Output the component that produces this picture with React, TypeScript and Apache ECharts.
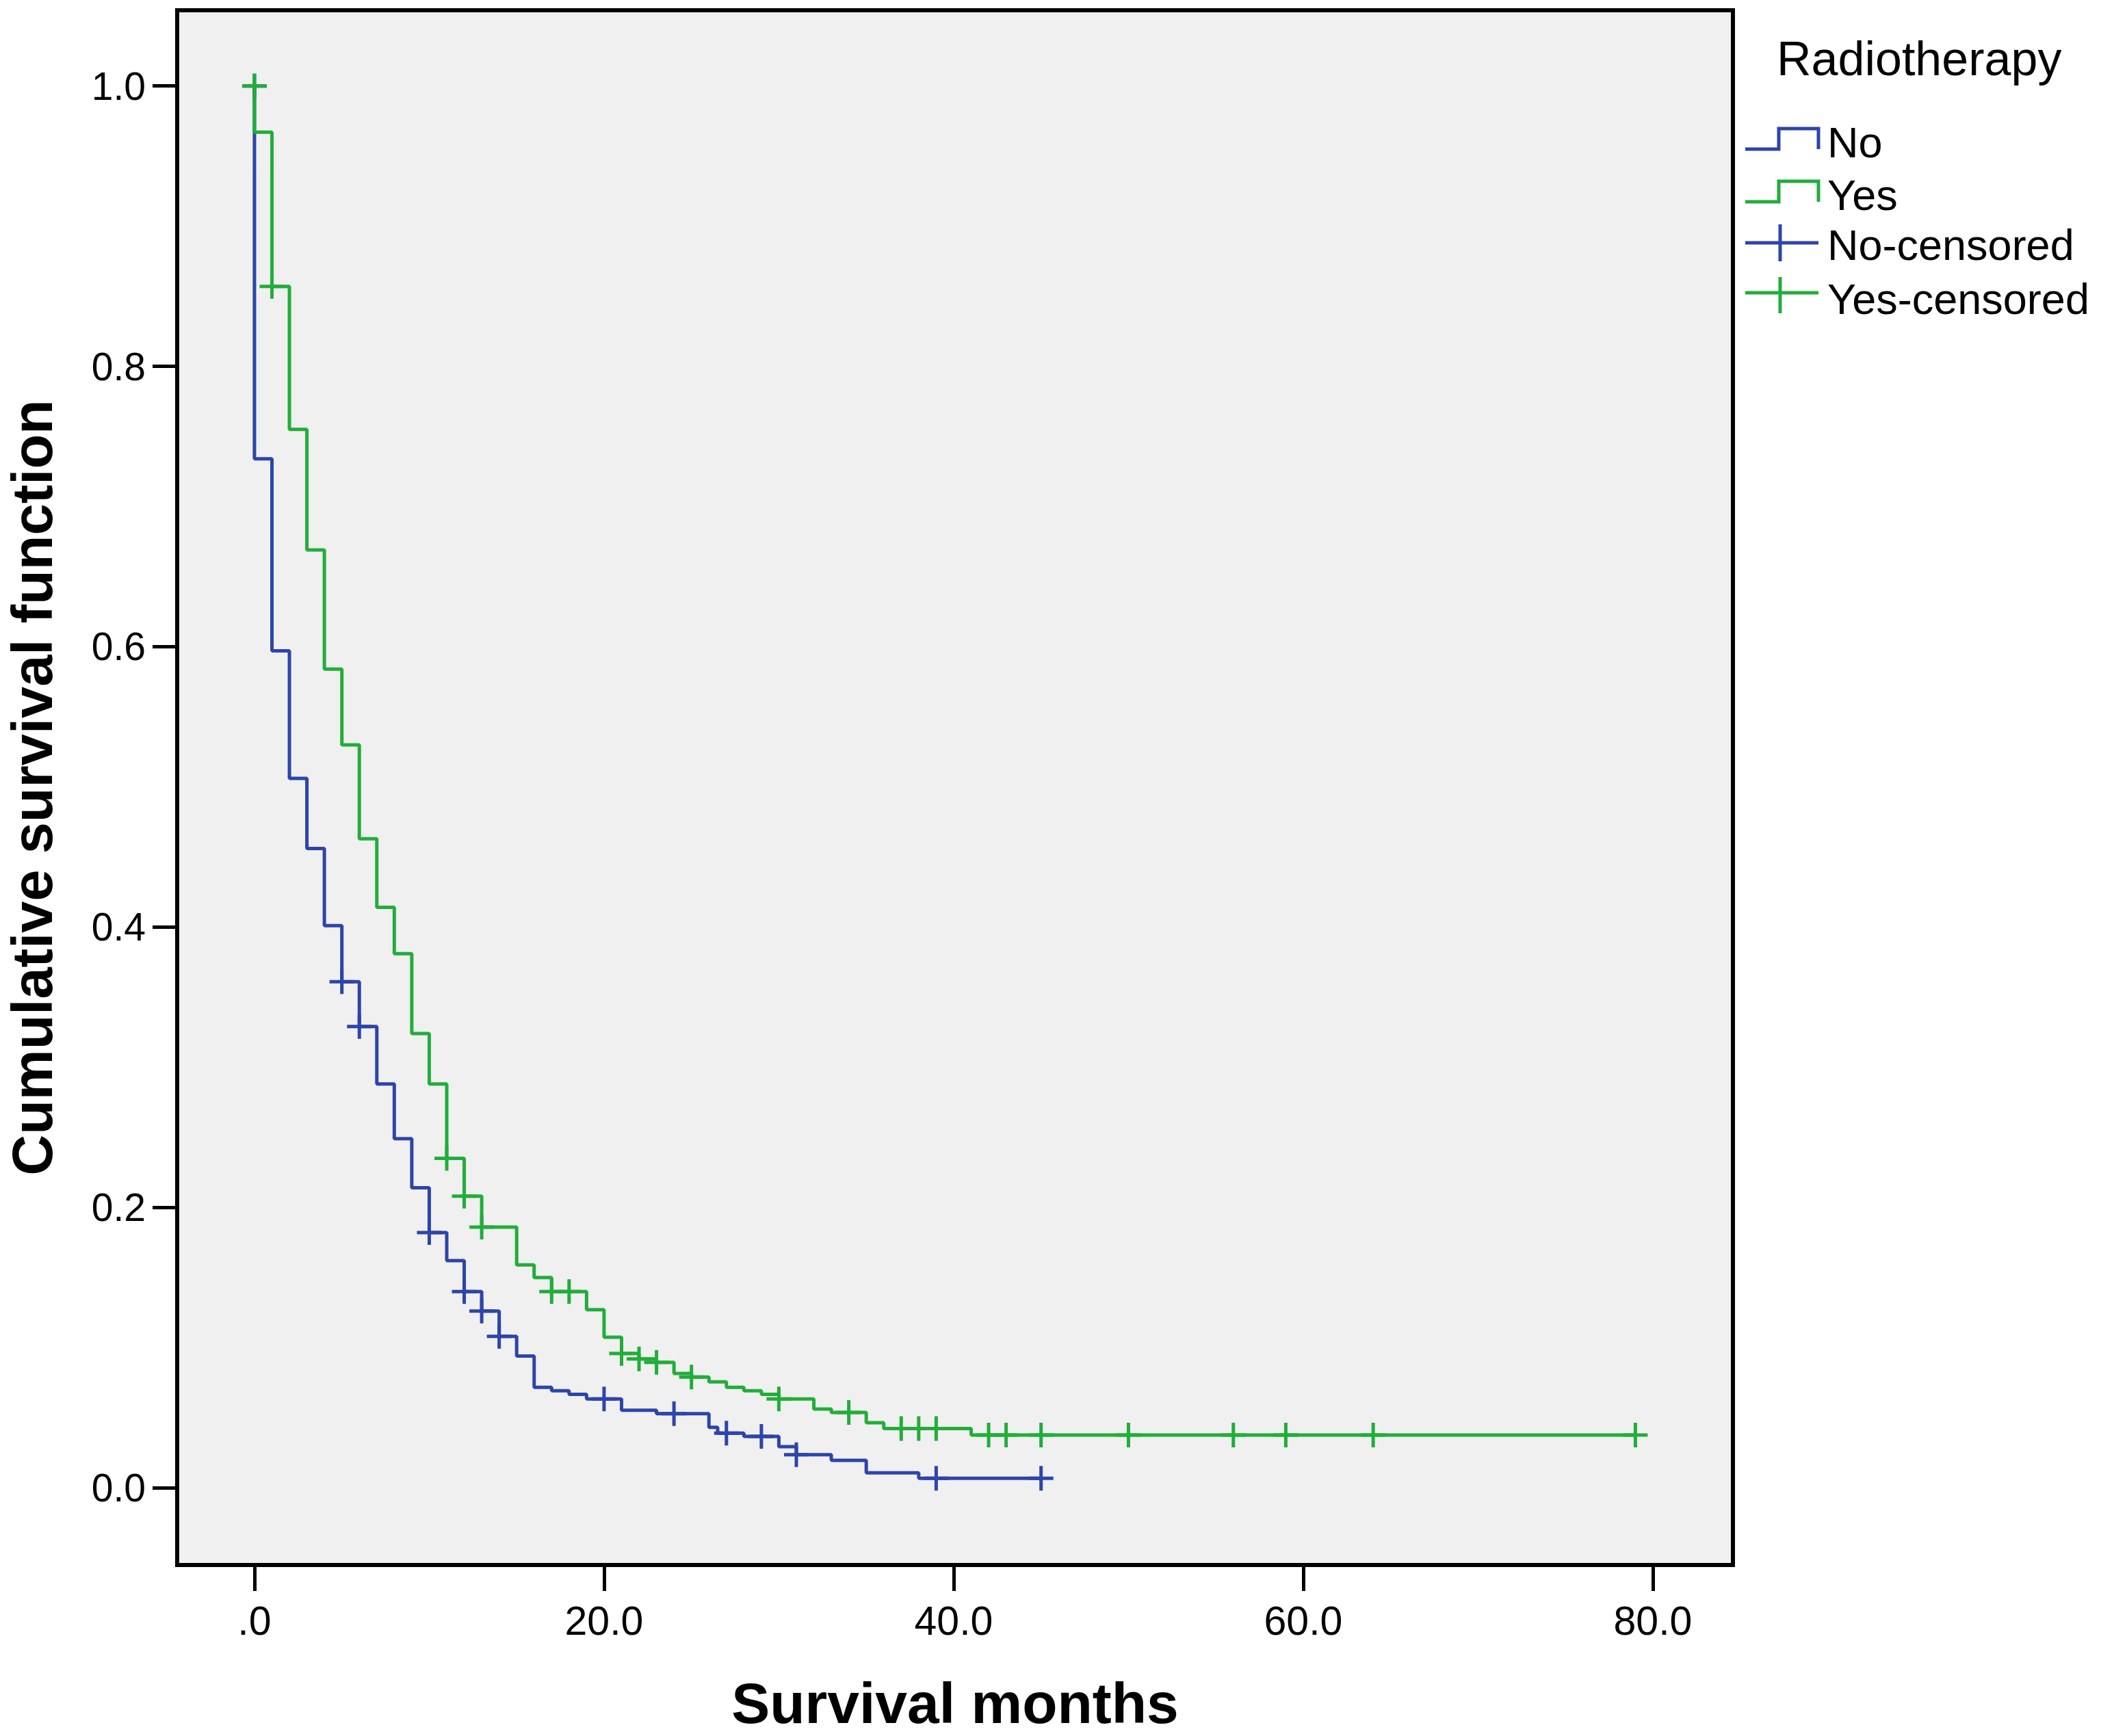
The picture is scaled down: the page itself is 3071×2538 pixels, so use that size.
import React, { useEffect, useRef } from "react";
import * as echarts from "echarts";

// Kaplan–Meier step points (time in months, cumulative survival after the drop)
const noTimes = [0, 0, 1, 2, 3, 4, 5, 6, 7, 8, 9, 10, 11, 12, 13, 14, 15, 16, 17, 18, 19, 21, 23, 26, 26.5, 28, 30, 31, 33, 35, 38, 45];
const noSurv = [1.0, 0.734, 0.597, 0.506, 0.456, 0.401, 0.361, 0.329, 0.288, 0.249, 0.214, 0.182, 0.162, 0.140, 0.126, 0.108, 0.094, 0.0716, 0.0692, 0.0667, 0.0634, 0.0553, 0.0529, 0.0431, 0.039, 0.0366, 0.0293, 0.0236, 0.0195, 0.0106, 0.0068, 0.0068];

const yesTimes = [0, 0, 1, 2, 3, 4, 5, 6, 7, 8, 9, 10, 11, 12, 13, 15, 16, 17, 19, 20, 21, 22, 23, 24, 25, 26, 27, 28, 29, 30, 32, 33, 35, 36, 41, 79];
const yesSurv = [1.0, 0.967, 0.857, 0.755, 0.669, 0.584, 0.530, 0.463, 0.414, 0.381, 0.324, 0.288, 0.235, 0.208, 0.186, 0.159, 0.150, 0.1399, 0.127, 0.1074, 0.0958, 0.0919, 0.0895, 0.0815, 0.079, 0.0756, 0.0716, 0.0692, 0.0667, 0.0634, 0.0561, 0.0537, 0.0464, 0.0423, 0.0376, 0.0376];

// Censored observations
const noCensorTimes = [0, 5, 6, 10, 12, 13, 14, 20, 24, 27, 29, 31, 39, 45];
const noCensorSurv = [1.0, 0.361, 0.329, 0.182, 0.140, 0.126, 0.108, 0.0634, 0.0529, 0.039, 0.0366, 0.0236, 0.0068, 0.0068];

const yesCensorTimes = [0, 1, 11, 12, 13, 17, 18, 21, 22, 23, 25, 30, 34, 37, 38, 39, 42, 43, 45, 50, 56, 59, 64, 79];
const yesCensorSurv = [1.0, 0.857, 0.235, 0.208, 0.186, 0.1399, 0.1399, 0.0958, 0.0919, 0.0895, 0.079, 0.0634, 0.0537, 0.0423, 0.0423, 0.0423, 0.0376, 0.0376, 0.0376, 0.0376, 0.0376, 0.0376, 0.0376, 0.0376];

const xTicks = [0, 20, 40, 60, 80];
const yTicks = [0, 0.2, 0.4, 0.6, 0.8, 1.0];

const legendTitle = "Radiotherapy";
const groupNames = ["No", "Yes", "No-censored", "Yes-censored"];

const BLUE = "#2D45A9";
const GREEN = "#22AD3A";
const FONT = "Liberation Sans, Arial, sans-serif";
const PLUS = "path://M15.5,0h5v15.5h15.5v5h-15.5v15.5h-5v-15.5h-15.5v-5h15.5z";

const pairs = (xs: number[], ys: number[]) => xs.map((x, i) => [x, ys[i]]);

export default function App() {
  const ref = useRef<HTMLDivElement>(null);

  useEffect(() => {
    if (!ref.current) return;
    const chart = echarts.init(ref.current, null, { renderer: "svg" });

    const lx0 = 2551, lx1 = 2600, lx2 = 2658, tx = 2671;
    const stepIcon = (low: number, high: number, color: string) => ({
      type: "polyline",
      shape: { points: [[lx0, low], [lx1, low], [lx1, high], [lx2, high], [lx2, low]] },
      style: { stroke: color, lineWidth: 5, fill: "none" },
    });
    const crossIcon = (y: number, top: number, bottom: number, color: string) => [
      { type: "line", shape: { x1: lx0, y1: y, x2: lx2, y2: y }, style: { stroke: color, lineWidth: 5 } },
      { type: "line", shape: { x1: 2602, y1: top, x2: 2602, y2: bottom }, style: { stroke: color, lineWidth: 5 } },
    ];
    const label = (text: string, y: number) => ({
      type: "text",
      x: tx,
      y,
      style: { text, fontSize: 63, fontFamily: FONT, fill: "#000", align: "left", verticalAlign: "middle" },
    });

    chart.setOption({
      animation: false,
      backgroundColor: "#ffffff",
      grid: {
        left: 259,
        top: 15,
        width: 2274,
        height: 2273,
        show: true,
        backgroundColor: "#F0F0F0",
        borderColor: "#000",
        borderWidth: 6,
        containLabel: false,
        outerBoundsMode: "none",
      },
      xAxis: {
        type: "value",
        min: -4.42,
        max: 84.58,
        splitLine: { show: false },
        axisLine: { show: true, onZero: false, lineStyle: { color: "#000", width: 6 } },
        axisTick: { show: true, inside: false, length: 38, lineStyle: { color: "#000", width: 5 }, customValues: xTicks },
        axisLabel: {
          customValues: xTicks,
          formatter: (v: number) => (v === 0 ? ".0" : v.toFixed(1)),
          fontSize: 59,
          fontFamily: FONT,
          color: "#000",
          margin: 52,
        },
        name: "Survival months",
        nameLocation: "middle",
        nameGap: 202,
        nameTextStyle: { fontSize: 84, fontWeight: "bold", fontFamily: FONT, color: "#000", verticalAlign: "middle", lineHeight: 84 },
      },
      yAxis: {
        type: "value",
        min: -0.0551,
        max: 1.054,
        splitLine: { show: false },
        axisLine: { show: true, onZero: false, lineStyle: { color: "#000", width: 6 } },
        axisTick: { show: true, inside: false, length: 36, lineStyle: { color: "#000", width: 5 }, customValues: yTicks },
        axisLabel: {
          customValues: yTicks,
          formatter: (v: number) => v.toFixed(1),
          fontSize: 57,
          fontFamily: FONT,
          color: "#000",
          margin: 46,
        },
        name: "Cumulative survival function",
        nameLocation: "middle",
        nameRotate: 90,
        nameGap: 212,
        nameTextStyle: { fontSize: 83, fontWeight: "bold", fontFamily: FONT, color: "#000", verticalAlign: "middle", lineHeight: 83 },
      },
      series: [
        {
          name: groupNames[0],
          type: "line",
          step: "end",
          data: pairs(noTimes, noSurv),
          showSymbol: false,
          symbol: "none",
          lineStyle: { color: BLUE, width: 5 },
          itemStyle: { color: BLUE },
          z: 2,
        },
        {
          name: groupNames[1],
          type: "line",
          step: "end",
          data: pairs(yesTimes, yesSurv),
          showSymbol: false,
          symbol: "none",
          lineStyle: { color: GREEN, width: 5 },
          itemStyle: { color: GREEN },
          z: 3,
        },
        {
          name: groupNames[2],
          type: "scatter",
          data: pairs(noCensorTimes, noCensorSurv),
          symbol: PLUS,
          symbolSize: 36,
          itemStyle: { color: BLUE, opacity: 1 },
          z: 4,
        },
        {
          name: groupNames[3],
          type: "scatter",
          data: pairs(yesCensorTimes, yesCensorSurv),
          symbol: PLUS,
          symbolSize: 36,
          itemStyle: { color: GREEN, opacity: 1 },
          z: 5,
        },
      ],
      graphic: [
        {
          type: "text",
          x: 2597,
          y: 86,
          style: { text: legendTitle, fontSize: 70, fontFamily: FONT, fill: "#000", align: "left", verticalAlign: "middle" },
        },
        stepIcon(218, 188, BLUE),
        label(groupNames[0], 208),
        stepIcon(295, 265, GREEN),
        label(groupNames[1], 285),
        ...crossIcon(355, 328, 382, BLUE),
        label(groupNames[2], 358),
        ...crossIcon(428, 405, 458, GREEN),
        label(groupNames[3], 437),
      ],
    });

    return () => chart.dispose();
  }, []);

  return (
    <div
      ref={ref}
      style={{ position: "absolute", left: 0, top: 0, width: 3071, height: 2538, background: "#fff" }}
    />
  );
}
